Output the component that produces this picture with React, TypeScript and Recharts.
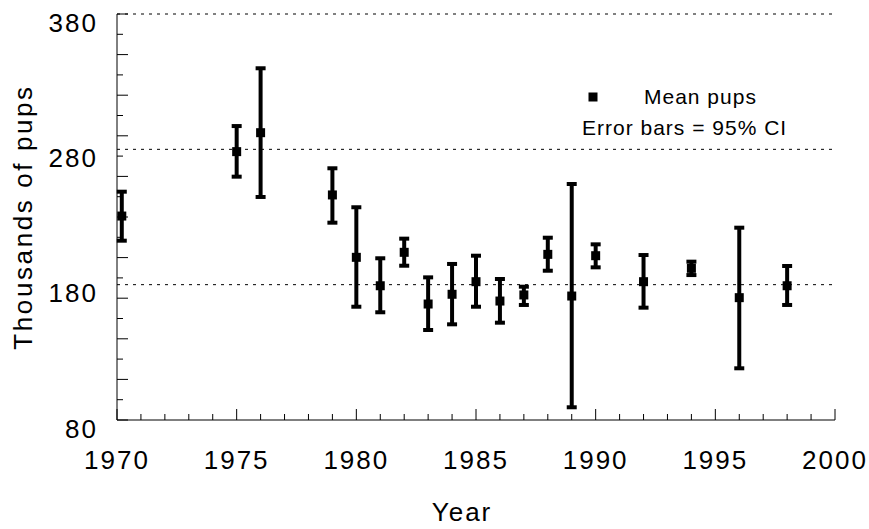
import * as React from "react";
import { ScatterChart, Scatter, XAxis, YAxis, ErrorBar, ReferenceLine } from "recharts";

// survey years and pup estimates (thousands)
const years = [1970.2, 1975, 1976, 1979, 1980, 1981, 1982, 1983, 1984, 1985, 1986, 1987, 1988, 1989, 1990, 1992, 1994, 1996, 1998];
const means = [230.7, 278.3, 292.3, 246.3, 200.2, 179.2, 203.9, 165.7, 172.9, 182.2, 167.9, 172.4, 202.4, 171.6, 201.4, 182.2, 192.1, 170.4, 179.2];
const lower = [212.5, 259.8, 244.8, 225.8, 163.7, 159.6, 194.0, 146.5, 150.7, 163.7, 151.9, 165.0, 190.3, 89.4, 192.8, 163.0, 187.1, 118.2, 165.0];
const upper = [248.7, 297.2, 339.9, 266.0, 237.2, 199.5, 214.0, 185.4, 195.3, 201.4, 184.2, 178.5, 214.7, 254.4, 209.8, 201.9, 197.0, 222.1, 193.8];

const xLabels = [1970, 1975, 1980, 1985, 1990, 1995, 2000];
const yLabels = [80, 180, 280, 380];
const gridLines = [180, 280, 380];

// tick marks: every year on x, every 15 on y
const xTicks = Array.from({ length: 31 }, (_, i) => 1970 + i);
const yMarks = Array.from({ length: 21 }, (_, i) => 80 + i * 15);
const yTicks = Array.from(new Set([...yMarks, ...yLabels])).sort((a, b) => a - b);

const data = years.map((year, i) => ({
  year,
  mean: means[i],
  err: [means[i] - lower[i], upper[i] - means[i]],
}));

const FONT = "'Liberation Sans', Arial, sans-serif";

const XTick = (props: any) => {
  const { x, y, payload } = props;
  const v = payload.value;
  const major = v % 5 === 0;
  return (
    <g>
      <line x1={x} y1={y} x2={x} y2={y - (major ? 11 : 6)} stroke="#000" strokeWidth={1} />
      {xLabels.includes(v) && (
        <text x={x} y={y + 49} textAnchor="middle" fontSize={26} letterSpacing={2} fontFamily={FONT} fill="#000">
          {v}
        </text>
      )}
    </g>
  );
};

const YTick = (props: any) => {
  const { x, y, payload } = props;
  const v = payload.value;
  const major = (v - 80) % 30 === 0;
  return (
    <g>
      {yMarks.includes(v) && (
        <line x1={x} y1={y} x2={x + (major ? 11 : 6)} y2={y} stroke="#000" strokeWidth={1} />
      )}
      {yLabels.includes(v) && (
        <text x={x - 19} y={y + 17.5} textAnchor="end" fontSize={26} letterSpacing={2} fontFamily={FONT} fill="#000">
          {v}
        </text>
      )}
    </g>
  );
};

const Square = (p: any) => <rect x={p.cx - 4.5} y={p.cy - 4.5} width={9} height={9} fill="#000" />;

export default function App() {
  return (
    <div style={{ position: "absolute", left: 0, top: 0, width: 869, height: 529, background: "#fff" }}>
      <ScatterChart width={869} height={529} margin={{ top: 14, right: 34, bottom: 108, left: 116 }}>
        <XAxis
          type="number"
          dataKey="year"
          domain={[1970, 2000]}
          ticks={xTicks}
          interval={0}
          height={1}
          tickSize={0}
          tickMargin={0}
          tickLine={false}
          axisLine={{ stroke: "#000", strokeWidth: 1 }}
          tick={<XTick />}
          allowDataOverflow
        />
        <YAxis
          type="number"
          dataKey="mean"
          domain={[80, 380]}
          ticks={yTicks}
          interval={0}
          width={1}
          tickSize={0}
          tickMargin={0}
          tickLine={false}
          axisLine={{ stroke: "#000", strokeWidth: 1 }}
          tick={<YTick />}
          allowDataOverflow
        />
        {gridLines.map((v) => (
          <ReferenceLine key={v} y={v} stroke="#000" strokeWidth={1} strokeDasharray="3 5" />
        ))}
        <Scatter data={data} shape={<Square />} isAnimationActive={false}>
          <ErrorBar dataKey="err" direction="y" width={5} strokeWidth={4} stroke="#000" isAnimationActive={false} />
        </Scatter>
      </ScatterChart>
      <svg width={869} height={529} style={{ position: "absolute", left: 0, top: 0, pointerEvents: "none" }}>
        <text
          transform="translate(32,217) rotate(-90)"
          textAnchor="middle"
          fontSize={26}
          letterSpacing={2.6}
          fontFamily={FONT}
          fill="#000"
        >
          Thousands of pups
        </text>
        <text x={462} y={521} textAnchor="middle" fontSize={26} letterSpacing={2} fontFamily={FONT} fill="#000">
          Year
        </text>
        <rect x={588.5} y={92.5} width={9} height={9} fill="#000" />
        <text x={644} y={104} fontSize={21} letterSpacing={1} fontFamily={FONT} fill="#000">
          Mean pups
        </text>
        <text x={582} y={135} fontSize={21} letterSpacing={1} fontFamily={FONT} fill="#000">
          Error bars = 95% CI
        </text>
      </svg>
    </div>
  );
}
